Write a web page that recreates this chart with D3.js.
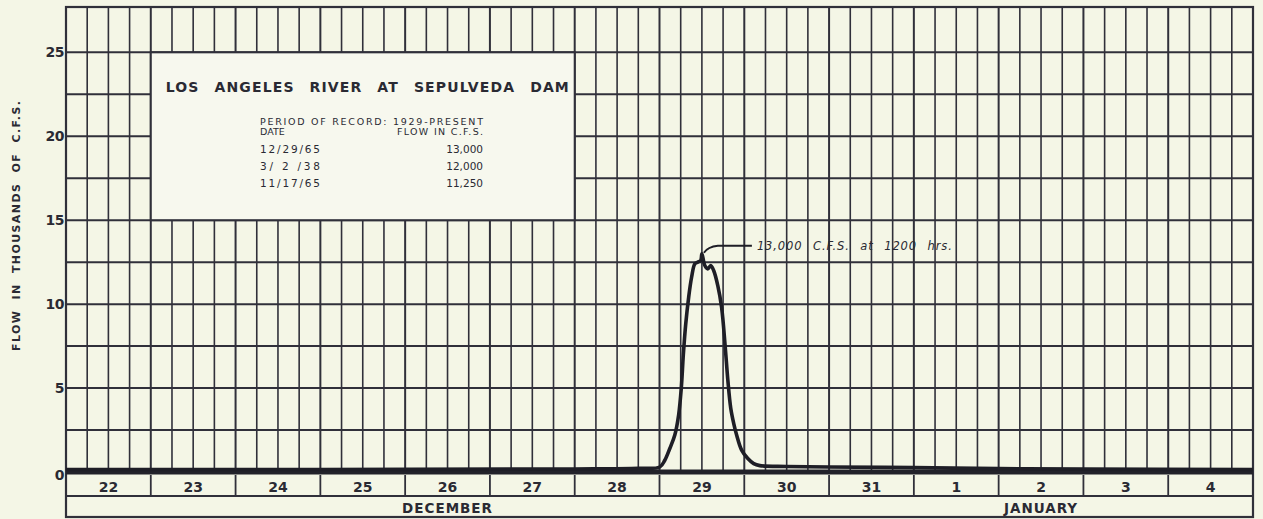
<!DOCTYPE html>
<html>
<head>
<meta charset="utf-8">
<script src="https://cdn.jsdelivr.net/npm/d3@7"></script>
<style>
  html, body { margin: 0; padding: 0; background: #f4f6e6; }
  svg { display: block; }
  text { font-family: "DejaVu Sans", "Liberation Sans", sans-serif; fill: #2a2a33; }
</style>
</head>
<body>
<svg id="chart" width="1263" height="519"></svg>
<script>
// ---------------- data ----------------
const startDate = "1965-12-22 00:00";
const endDate = "1966-01-05 00:00";
const dayLabels = ["22","23","24","25","26","27","28","29","30","31","1","2","3","4"];
const monthLabels = ["DECEMBER", "JANUARY"];
const monthLabelAt = ["1965-12-26 12:00", "1966-01-02 12:00"];
const yTicks = [0, 5, 10, 15, 20, 25];
const yGridStep = 2.5;
const yGridMax = 25;
const yMax = 27.7;

// hydrograph: time and flow (thousands of c.f.s.)
const flowTimes = [
  "1965-12-22 00:00", "1965-12-25 00:00", "1965-12-28 00:00", "1965-12-28 18:00",
  "1965-12-29 00:05", "1965-12-29 01:30", "1965-12-29 02:55", "1965-12-29 04:20",
  "1965-12-29 05:25", "1965-12-29 06:10", "1965-12-29 06:45", "1965-12-29 07:25",
  "1965-12-29 08:15", "1965-12-29 09:05", "1965-12-29 10:00", "1965-12-29 10:50",
  "1965-12-29 11:40", "1965-12-29 12:00", "1965-12-29 12:50", "1965-12-29 13:40",
  "1965-12-29 14:30", "1965-12-29 15:20", "1965-12-29 16:30", "1965-12-29 17:35",
  "1965-12-29 18:35", "1965-12-29 19:20", "1965-12-29 20:10", "1965-12-29 21:00",
  "1965-12-29 21:50", "1965-12-29 23:15", "1965-12-30 01:00", "1965-12-30 02:40",
  "1965-12-30 04:25", "1965-12-30 12:00", "1965-12-31 00:00", "1966-01-01 00:00",
  "1966-01-02 00:00", "1966-01-03 00:00", "1966-01-05 00:00"
];
const flowValues = [
  0.15, 0.15, 0.18, 0.22,
  0.3, 0.7, 1.4, 2.2,
  3.4, 5.0, 7.0, 8.8,
  10.4, 11.6, 12.4, 12.5,
  12.6, 13.0, 12.3, 12.1,
  12.3, 12.0, 11.1, 9.8,
  7.5, 5.5, 3.8, 2.9,
  2.2, 1.3, 0.8, 0.5,
  0.38, 0.33, 0.3, 0.26,
  0.2, 0.17, 0.15
];

const stationTitle = "LOS ANGELES RIVER AT SEPULVEDA DAM";
const periodText = "PERIOD OF RECORD: 1929-PRESENT";
const colHeaders = ["DATE", "FLOW IN C.F.S."];
const recordDates = ["12/29/65", "3/ 2 /38", "11/17/65"];
const recordFlows = ["13,000", "12,000", "11,250"];
const peakLabel = "13,000 C.F.S. at 1200 hrs.";
const peakTime = "1965-12-29 12:00";
const peakValue = 13.0;
const yTitle = "FLOW IN THOUSANDS OF C.F.S.";

// ---------------- drawing ----------------
(function () {
const parse = d3.timeParse("%Y-%m-%d %H:%M");
const ink = "#30303a";
const svg = d3.select("#chart");

const x = d3.scaleTime().domain([parse(startDate), parse(endDate)]).range([66, 1253]);
const y = d3.scaleLinear().domain([0, yMax]).range([472, 7]);

const plotTop = y(yMax), bottom0 = y(0);
const dayRowTop = 475, dayRowBottom = 496, monthRowBottom = 517;

// background
svg.append("rect").attr("width", 1263).attr("height", 519).attr("fill", "#f4f6e6");

const grid = svg.append("g");
// vertical 6-hour lines
const sixHours = d3.timeHour.every(6).range(parse(startDate), parse(endDate));
grid.selectAll("line.v").data(sixHours).join("line")
  .attr("x1", d => x(d)).attr("x2", d => x(d))
  .attr("y1", plotTop).attr("y2", bottom0)
  .attr("stroke", ink)
  .attr("stroke-width", d => d.getHours() === 0 ? 2 : 1.6);
// horizontal lines every 2.5
const hVals = d3.range(yGridStep, yGridMax + 0.001, yGridStep);
grid.selectAll("line.h").data(hVals).join("line")
  .attr("x1", x.range()[0]).attr("x2", x.range()[1])
  .attr("y1", d => y(d)).attr("y2", d => y(d))
  .attr("stroke", ink).attr("stroke-width", 2);

// legend box (covers grid between Dec 23–Dec 28 and 15–25)
const bx0 = x(parse("1965-12-23 00:00")), bx1 = x(parse("1965-12-28 00:00"));
const by0 = y(25), by1 = y(15);
svg.append("rect")
  .attr("x", bx0).attr("y", by0).attr("width", bx1 - bx0).attr("height", by1 - by0)
  .attr("fill", "#f7f8ee").attr("stroke", ink).attr("stroke-width", 2);

// frame
svg.append("rect")
  .attr("x", x.range()[0]).attr("y", plotTop)
  .attr("width", x.range()[1] - x.range()[0]).attr("height", monthRowBottom - plotTop)
  .attr("fill", "none").attr("stroke", ink).attr("stroke-width", 2.2);

// day row separators
const dayStarts = d3.timeDay.range(parse(startDate), parse(endDate));
svg.selectAll("line.d").data(dayStarts.slice(1)).join("line")
  .attr("x1", d => x(d)).attr("x2", d => x(d))
  .attr("y1", dayRowTop).attr("y2", dayRowBottom)
  .attr("stroke", ink).attr("stroke-width", 1.8);
svg.append("line")
  .attr("x1", x.range()[0]).attr("x2", x.range()[1])
  .attr("y1", dayRowBottom).attr("y2", dayRowBottom)
  .attr("stroke", ink).attr("stroke-width", 2);

// thick zero line
svg.append("line")
  .attr("x1", x.range()[0]).attr("x2", x.range()[1])
  .attr("y1", y(0)).attr("y2", y(0))
  .attr("stroke", "#22222a").attr("stroke-width", 5);

// hydrograph
const flow = flowTimes.map((t, i) => ({ t: parse(t), v: flowValues[i] }));
const line = d3.line().x(d => x(d.t)).y(d => y(d.v)).curve(d3.curveCatmullRom.alpha(0.5));
svg.append("path").datum(flow)
  .attr("d", line)
  .attr("fill", "none").attr("stroke", "#1e1e26").attr("stroke-width", 3.6)
  .attr("stroke-linejoin", "round");

// peak annotation
const px = x(parse(peakTime)), py = y(peakValue);
svg.append("path")
  .attr("d", `M${px + 2},${py - 1} Q${px + 6},${py - 7} ${px + 16},${py - 8} L${px + 50},${py - 8}`)
  .attr("fill", "none").attr("stroke", "#1e1e26").attr("stroke-width", 2);
svg.append("text")
  .attr("x", px + 55).attr("y", py - 8)
  .attr("dominant-baseline", "central")
  .attr("font-size", 11.5).attr("font-style", "italic")
  .attr("word-spacing", 6)
  .attr("textLength", 195).attr("lengthAdjust", "spacing")
  .text(peakLabel);

// y tick labels
svg.selectAll("text.yt").data(yTicks).join("text")
  .attr("x", 64).attr("y", d => y(d) + (d === 0 ? 3 : 0))
  .attr("text-anchor", "end").attr("dominant-baseline", "central")
  .attr("font-size", 14).attr("font-weight", "bold")
  .attr("letter-spacing", -0.5)
  .text(d => d);

// y title
svg.append("text")
  .attr("transform", "translate(16,226) rotate(-90)")
  .attr("text-anchor", "middle").attr("dominant-baseline", "central")
  .attr("font-size", 11).attr("font-weight", "bold")
  .attr("word-spacing", 5)
  .attr("textLength", 250).attr("lengthAdjust", "spacing")
  .text(yTitle);

// day labels
svg.selectAll("text.day").data(dayStarts).join("text")
  .attr("x", d => x(d3.timeHour.offset(d, 12)))
  .attr("y", (dayRowTop + dayRowBottom) / 2 + 1)
  .attr("text-anchor", "middle").attr("dominant-baseline", "central")
  .attr("font-size", 14).attr("font-weight", "bold")
  .text((d, i) => dayLabels[i]);

// month labels
svg.selectAll("text.mon").data(monthLabels).join("text")
  .attr("x", (d, i) => x(parse(monthLabelAt[i])))
  .attr("y", (dayRowBottom + monthRowBottom) / 2 + 1)
  .attr("text-anchor", "middle").attr("dominant-baseline", "central")
  .attr("font-size", 13.5).attr("font-weight", "bold").attr("letter-spacing", 1)
  .text(d => d);

// legend texts
const lg = svg.append("g");
lg.append("text")
  .attr("x", bx0 + 15).attr("y", 87)
  .attr("dominant-baseline", "central")
  .attr("font-size", 14).attr("font-weight", "bold")
  .attr("word-spacing", 9)
  .attr("textLength", 403).attr("lengthAdjust", "spacing")
  .text(stationTitle);
lg.append("text")
  .attr("x", 260).attr("y", 121.5)
  .attr("dominant-baseline", "central").attr("font-size", 9.5)
  .attr("textLength", 223).attr("lengthAdjust", "spacing")
  .text(periodText);
lg.append("text")
  .attr("x", 260).attr("y", 131.5)
  .attr("dominant-baseline", "central").attr("font-size", 9.5)
  .text(colHeaders[0]);
lg.append("text")
  .attr("x", 483).attr("y", 131.5)
  .attr("text-anchor", "end").attr("dominant-baseline", "central").attr("font-size", 9.5)
  .attr("textLength", 86).attr("lengthAdjust", "spacing")
  .text(colHeaders[1]);
const rowY = [149, 166, 183];
lg.selectAll("text.rd").data(recordDates).join("text")
  .attr("x", 260).attr("y", (d, i) => rowY[i])
  .attr("dominant-baseline", "central").attr("font-size", 10.5)
  .attr("textLength", 60).attr("lengthAdjust", "spacing")
  .text(d => d);
lg.selectAll("text.rf").data(recordFlows).join("text")
  .attr("x", 483).attr("y", (d, i) => rowY[i])
  .attr("text-anchor", "end").attr("dominant-baseline", "central").attr("font-size", 10.5)
  .text(d => d);
})();
</script>
</body>
</html>
